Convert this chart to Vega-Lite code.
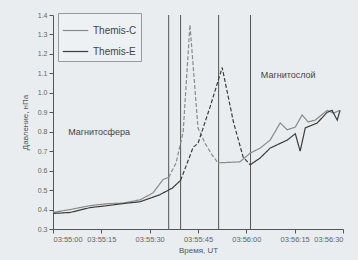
{
  "$schema": "https://vega.github.io/schema/vega-lite/v6.json",
  "width": 290,
  "height": 214,
  "autosize": "none",
  "padding": {"left": 53, "top": 15, "right": 15, "bottom": 31},
  "background": "#e9edf0",
  "config": {
    "view": {"stroke": null},
    "font": "Liberation Sans",
    "axis": {
      "grid": false,
      "domainColor": "#555",
      "tickColor": "#555",
      "labelColor": "#666",
      "titleColor": "#555",
      "labelFontSize": 7.5,
      "titleFontSize": 8,
      "titleFontWeight": "normal",
      "tickSize": 4
    }
  },
  "datasets": {
    "curves": [
      {"series": "Themis-C", "part": "C1", "style": "solid", "t": 0, "p": 0.385},
      {"series": "Themis-C", "part": "C1", "style": "solid", "t": 5.3, "p": 0.4},
      {"series": "Themis-C", "part": "C1", "style": "solid", "t": 11.5, "p": 0.42},
      {"series": "Themis-C", "part": "C1", "style": "solid", "t": 16.8, "p": 0.43},
      {"series": "Themis-C", "part": "C1", "style": "solid", "t": 21.7, "p": 0.433},
      {"series": "Themis-C", "part": "C1", "style": "solid", "t": 27, "p": 0.45},
      {"series": "Themis-C", "part": "C1", "style": "solid", "t": 31, "p": 0.485},
      {"series": "Themis-C", "part": "C1", "style": "solid", "t": 34.2, "p": 0.555},
      {"series": "Themis-C", "part": "C1", "style": "solid", "t": 35.9, "p": 0.565},
      {"series": "Themis-C", "part": "C2", "style": "dashed", "t": 35.9, "p": 0.565},
      {"series": "Themis-C", "part": "C2", "style": "dashed", "t": 38.2, "p": 0.64},
      {"series": "Themis-C", "part": "C2", "style": "dashed", "t": 40.4, "p": 0.8},
      {"series": "Themis-C", "part": "C2", "style": "dashed", "t": 42.5, "p": 1.35},
      {"series": "Themis-C", "part": "C2", "style": "dashed", "t": 45, "p": 0.82},
      {"series": "Themis-C", "part": "C2", "style": "dashed", "t": 47.2, "p": 0.74},
      {"series": "Themis-C", "part": "C2", "style": "dashed", "t": 49.4, "p": 0.68},
      {"series": "Themis-C", "part": "C2", "style": "dashed", "t": 51.2, "p": 0.64},
      {"series": "Themis-C", "part": "C3", "style": "solid", "t": 51.2, "p": 0.64},
      {"series": "Themis-C", "part": "C3", "style": "solid", "t": 58, "p": 0.645},
      {"series": "Themis-C", "part": "C3", "style": "solid", "t": 61.2, "p": 0.69},
      {"series": "Themis-C", "part": "C3", "style": "solid", "t": 64.3, "p": 0.716},
      {"series": "Themis-C", "part": "C3", "style": "solid", "t": 67.4, "p": 0.757},
      {"series": "Themis-C", "part": "C3", "style": "solid", "t": 70.5, "p": 0.845},
      {"series": "Themis-C", "part": "C3", "style": "solid", "t": 72.7, "p": 0.81},
      {"series": "Themis-C", "part": "C3", "style": "solid", "t": 75.2, "p": 0.824},
      {"series": "Themis-C", "part": "C3", "style": "solid", "t": 77.3, "p": 0.886},
      {"series": "Themis-C", "part": "C3", "style": "solid", "t": 79.2, "p": 0.85},
      {"series": "Themis-C", "part": "C3", "style": "solid", "t": 81.4, "p": 0.86},
      {"series": "Themis-C", "part": "C3", "style": "solid", "t": 85.1, "p": 0.91},
      {"series": "Themis-C", "part": "C3", "style": "solid", "t": 87, "p": 0.896},
      {"series": "Themis-C", "part": "C3", "style": "solid", "t": 89.1, "p": 0.91},
      {"series": "Themis-E", "part": "E1", "style": "solid", "t": 0, "p": 0.38},
      {"series": "Themis-E", "part": "E1", "style": "solid", "t": 5.3, "p": 0.385},
      {"series": "Themis-E", "part": "E1", "style": "solid", "t": 11.5, "p": 0.41},
      {"series": "Themis-E", "part": "E1", "style": "solid", "t": 16.8, "p": 0.42},
      {"series": "Themis-E", "part": "E1", "style": "solid", "t": 23, "p": 0.433},
      {"series": "Themis-E", "part": "E1", "style": "solid", "t": 27, "p": 0.44},
      {"series": "Themis-E", "part": "E1", "style": "solid", "t": 33, "p": 0.475},
      {"series": "Themis-E", "part": "E1", "style": "solid", "t": 37, "p": 0.51},
      {"series": "Themis-E", "part": "E1", "style": "solid", "t": 39.6, "p": 0.55},
      {"series": "Themis-E", "part": "E2", "style": "dashed", "t": 39.6, "p": 0.55},
      {"series": "Themis-E", "part": "E2", "style": "dashed", "t": 43.5, "p": 0.72},
      {"series": "Themis-E", "part": "E2", "style": "dashed", "t": 45, "p": 0.74},
      {"series": "Themis-E", "part": "E2", "style": "dashed", "t": 48.8, "p": 0.93},
      {"series": "Themis-E", "part": "E2", "style": "dashed", "t": 52.5, "p": 1.13},
      {"series": "Themis-E", "part": "E2", "style": "dashed", "t": 56, "p": 0.85},
      {"series": "Themis-E", "part": "E2", "style": "dashed", "t": 59, "p": 0.67},
      {"series": "Themis-E", "part": "E2", "style": "dashed", "t": 61.2, "p": 0.63},
      {"series": "Themis-E", "part": "E3", "style": "solid", "t": 61.2, "p": 0.63},
      {"series": "Themis-E", "part": "E3", "style": "solid", "t": 64.3, "p": 0.665},
      {"series": "Themis-E", "part": "E3", "style": "solid", "t": 67.4, "p": 0.716},
      {"series": "Themis-E", "part": "E3", "style": "solid", "t": 70.5, "p": 0.74},
      {"series": "Themis-E", "part": "E3", "style": "solid", "t": 72.7, "p": 0.757},
      {"series": "Themis-E", "part": "E3", "style": "solid", "t": 75.2, "p": 0.79},
      {"series": "Themis-E", "part": "E3", "style": "solid", "t": 76.7, "p": 0.7},
      {"series": "Themis-E", "part": "E3", "style": "solid", "t": 78.3, "p": 0.82},
      {"series": "Themis-E", "part": "E3", "style": "solid", "t": 82, "p": 0.845},
      {"series": "Themis-E", "part": "E3", "style": "solid", "t": 85.1, "p": 0.9},
      {"series": "Themis-E", "part": "E3", "style": "solid", "t": 86.6, "p": 0.91},
      {"series": "Themis-E", "part": "E3", "style": "solid", "t": 88.2, "p": 0.86},
      {"series": "Themis-E", "part": "E3", "style": "solid", "t": 89.1, "p": 0.91}
    ],
    "vlines": [
      {"t": 35.9},
      {"t": 39.6},
      {"t": 51.4},
      {"t": 61.3}
    ],
    "labels": [
      {"t": 4.7, "p": 0.8, "text": "Магнитосфера"},
      {"t": 64.5, "p": 1.09, "text": "Магнитослой"}
    ]
  },
  "encoding": {
    "x": {
      "field": "t",
      "type": "quantitative",
      "scale": {"domain": [0, 90], "nice": false, "zero": false},
      "axis": {
        "title": "Время, UT",
        "values": [0, 15, 30, 45, 60, 75, 90],
        "labelExpr": "'03:' + (datum.value < 60 ? '55:' + (datum.value < 10 ? '0' : '') + datum.value : '56:' + (datum.value - 60 < 10 ? '0' : '') + (datum.value - 60))",
        "titlePadding": 4
      }
    },
    "y": {
      "field": "p",
      "type": "quantitative",
      "scale": {"domain": [0.3, 1.4], "nice": false, "zero": false},
      "axis": {
        "title": "Давление, нПа",
        "values": [0.3, 0.4, 0.5, 0.6, 0.7, 0.8, 0.9, 1.0, 1.1, 1.2, 1.3, 1.4],
        "format": ".1f",
        "labelFontSize": 7,
        "labelOverlap": false,
        "titlePadding": 8
      }
    }
  },
  "layer": [
    {
      "data": {"name": "vlines"},
      "mark": {"type": "rule", "color": "#555", "strokeWidth": 1},
      "encoding": {"y": {"value": 0}, "y2": {"value": 214}}
    },
    {
      "data": {"name": "curves"},
      "mark": {"type": "line", "strokeWidth": 1.2},
      "encoding": {
        "color": {
          "field": "series",
          "type": "nominal",
          "scale": {"domain": ["Themis-C", "Themis-E"], "range": ["#8a8a8a", "#3c3c3c"]},
          "legend": {
            "title": null,
            "orient": "none",
            "legendX": 5,
            "legendY": -2,
            "symbolType": "stroke",
            "symbolSize": 650,
            "symbolStrokeWidth": 1.2,
            "labelFontSize": 10,
            "labelColor": "#444",
            "fillColor": "#eef1f3",
            "strokeColor": "#999",
            "padding": 4,
            "rowPadding": 2
          }
        },
        "strokeDash": {
          "field": "style",
          "type": "nominal",
          "scale": {"domain": ["solid", "dashed"], "range": [[1, 0], [4, 2]]},
          "legend": null
        },
        "detail": {"field": "part"},
        "order": {"field": "t"}
      }
    },
    {
      "data": {"name": "labels"},
      "mark": {"type": "text", "align": "left", "fontSize": 9, "color": "#444"},
      "encoding": {
        "text": {"field": "text"}
      }
    }
  ]
}
